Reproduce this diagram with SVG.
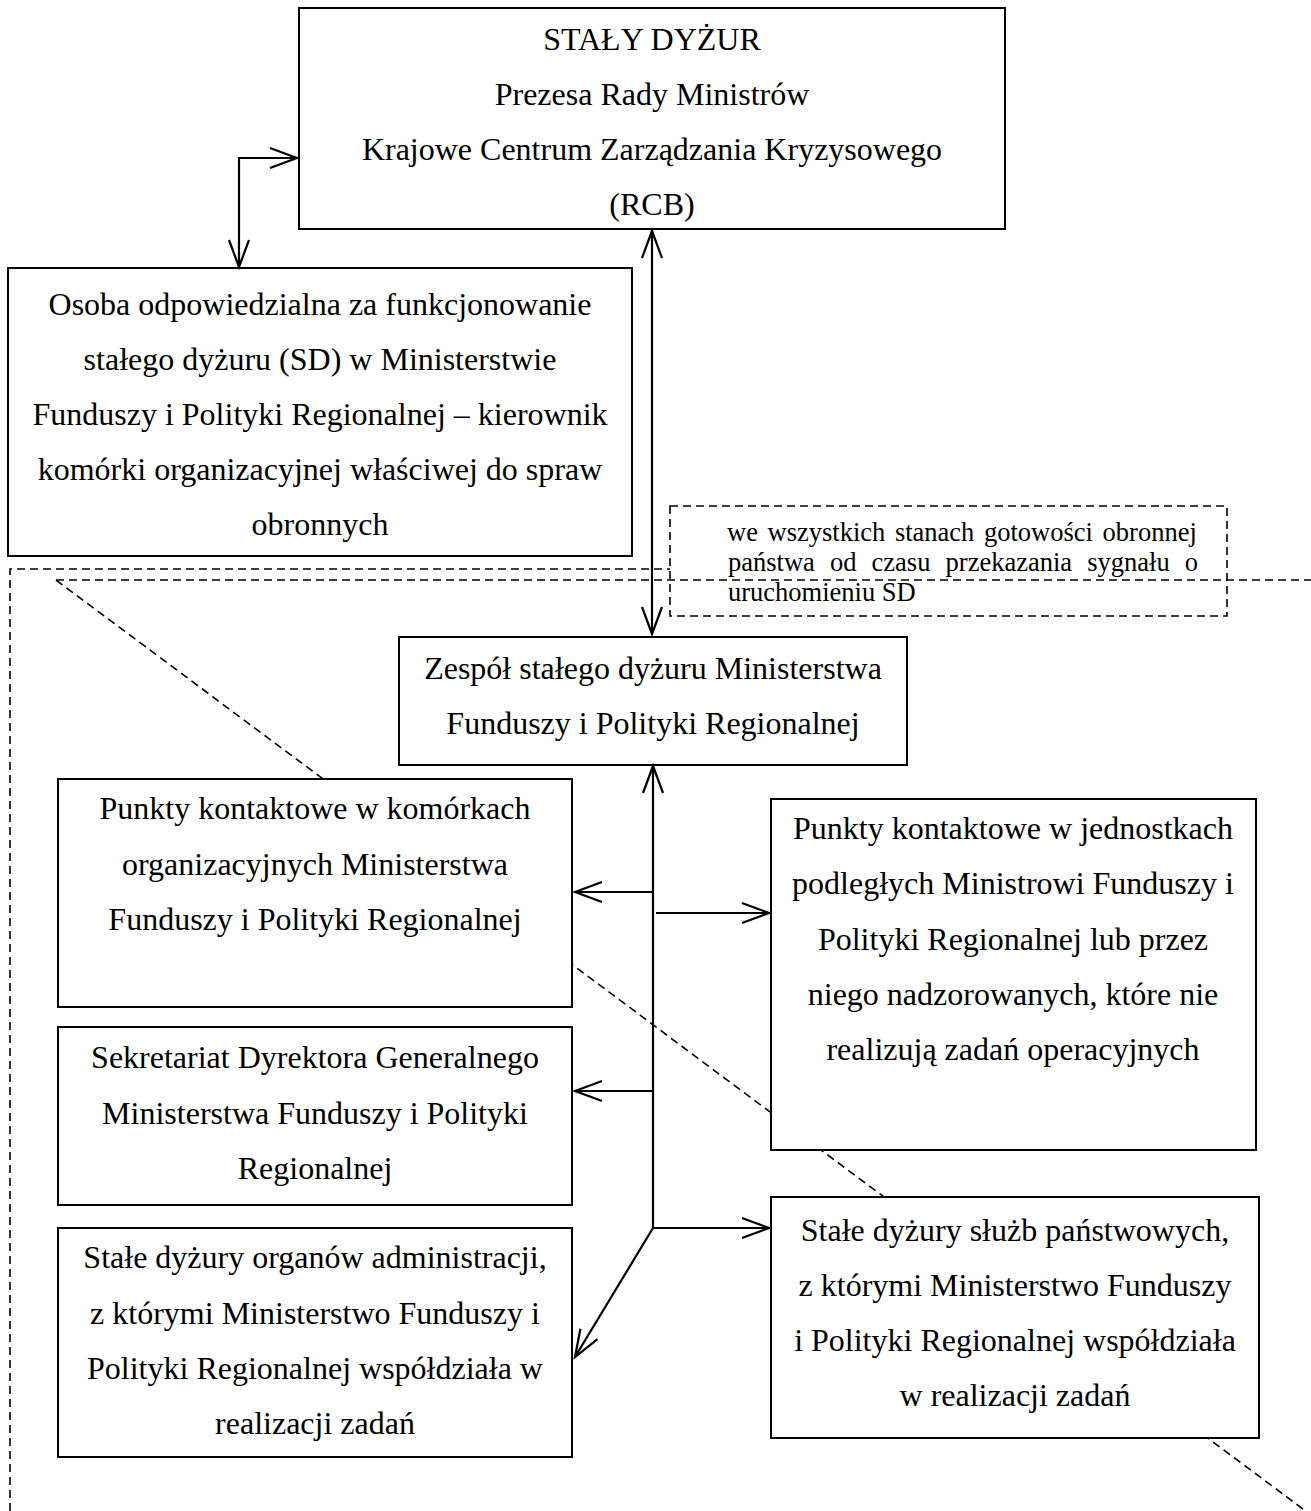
<svg xmlns="http://www.w3.org/2000/svg" width="1311" height="1511" viewBox="0 0 1311 1511">
<defs>
<style>
.box{fill:#fff;stroke:#000;stroke-width:2}
.t{font-family:"Liberation Serif","Times New Roman",serif;font-size:32px;text-anchor:middle;fill:#000}
.n{font-family:"Liberation Serif","Times New Roman",serif;font-size:26.5px;fill:#000}
.conn{stroke:#000;stroke-width:2.2;fill:none}
.dash{stroke:#000;stroke-width:1.6;stroke-dasharray:8 5;fill:none}
</style>
<marker id="arr" markerUnits="userSpaceOnUse" viewBox="-2 -2 32 24" markerWidth="32" markerHeight="24" refX="27" refY="10" orient="auto-start-reverse" overflow="visible">
<path d="M0,0 L27,10 L0,20" fill="none" stroke="#000" stroke-width="2.2"/>
</marker>
</defs>
<rect width="1311" height="1511" fill="#fff"/>

<g id="frame">
<path class="dash" d="M56,580 L1311,1515"/>
<path class="dash" d="M10,1511 L10,569 L670,569"/>
<path class="dash" d="M56,580 L1311,580"/>
</g>

<g id="note">
<rect class="dash" x="670" y="506" width="557" height="110"/>
<text class="n" x="727" y="541" word-spacing="3">we wszystkich stanach gotowości obronnej</text>
<text class="n" x="728" y="571" word-spacing="8.5">państwa od czasu przekazania sygnału o</text>
<text class="n" x="728" y="601">uruchomieniu SD</text>
</g>

<g id="rcb">
<rect class="box" x="299" y="8" width="706" height="221"/>
<text class="t" x="652" y="50">STAŁY DYŻUR</text>
<text class="t" x="652" y="105">Prezesa Rady Ministrów</text>
<text class="t" x="652" y="160">Krajowe Centrum Zarządzania Kryzysowego</text>
<text class="t" x="652" y="215">(RCB)</text>
</g>

<g id="osoba">
<rect class="box" x="8" y="268" width="624" height="288"/>
<text class="t" x="320" y="315">Osoba odpowiedzialna za funkcjonowanie</text>
<text class="t" x="320" y="370">stałego dyżuru (SD) w Ministerstwie</text>
<text class="t" x="320" y="425">Funduszy i Polityki Regionalnej – kierownik</text>
<text class="t" x="320" y="480">komórki organizacyjnej właściwej do spraw</text>
<text class="t" x="320" y="535">obronnych</text>
</g>

<g id="zespol">
<rect class="box" x="399" y="637" width="508" height="128"/>
<text class="t" x="653" y="679">Zespół stałego dyżuru Ministerstwa</text>
<text class="t" x="653" y="734">Funduszy i Polityki Regionalnej</text>
</g>

<g id="punkty-komorki">
<rect class="box" x="58" y="779" width="514" height="228"/>
<text class="t" x="315" y="819">Punkty kontaktowe w komórkach</text>
<text class="t" x="315" y="875">organizacyjnych Ministerstwa</text>
<text class="t" x="315" y="930">Funduszy i Polityki Regionalnej</text>
</g>

<g id="sekretariat">
<rect class="box" x="58" y="1027" width="514" height="178"/>
<text class="t" x="315" y="1068">Sekretariat Dyrektora Generalnego</text>
<text class="t" x="315" y="1124">Ministerstwa Funduszy i Polityki</text>
<text class="t" x="315" y="1179">Regionalnej</text>
</g>

<g id="organy">
<rect class="box" x="58" y="1228" width="514" height="229"/>
<text class="t" x="315" y="1268">Stałe dyżury organów administracji,</text>
<text class="t" x="315" y="1324">z którymi Ministerstwo Funduszy i</text>
<text class="t" x="315" y="1379">Polityki Regionalnej współdziała w</text>
<text class="t" x="315" y="1434">realizacji zadań</text>
</g>

<g id="punkty-jednostki">
<rect class="box" x="771" y="799" width="485" height="351"/>
<text class="t" x="1013" y="839">Punkty kontaktowe w jednostkach</text>
<text class="t" x="1013" y="894">podległych Ministrowi Funduszy i</text>
<text class="t" x="1013" y="950">Polityki Regionalnej lub przez</text>
<text class="t" x="1013" y="1005">niego nadzorowanych, które nie</text>
<text class="t" x="1013" y="1060">realizują zadań operacyjnych</text>
</g>

<g id="sluzby">
<rect class="box" x="771" y="1197" width="488" height="241"/>
<text class="t" x="1015" y="1241">Stałe dyżury służb państwowych,</text>
<text class="t" x="1015" y="1296">z którymi Ministerstwo Funduszy</text>
<text class="t" x="1015" y="1351">i Polityki Regionalnej współdziała</text>
<text class="t" x="1015" y="1406">w realizacji zadań</text>
</g>

<g id="connectors">
<path class="conn" d="M239,267 L239,158 L297,158" marker-start="url(#arr)" marker-end="url(#arr)"/>
<path class="conn" d="M652,231 L652,634" marker-start="url(#arr)" marker-end="url(#arr)"/>
<path class="conn" d="M653,1228 L653,766" marker-end="url(#arr)"/>
<path class="conn" d="M653,892 L575,892" marker-end="url(#arr)"/>
<path class="conn" d="M656,913 L769,913" marker-end="url(#arr)"/>
<path class="conn" d="M653,1091 L575,1091" marker-end="url(#arr)"/>
<path class="conn" d="M653,1228 L769,1228" marker-end="url(#arr)"/>
<path class="conn" d="M653,1228 L575,1357" marker-end="url(#arr)"/>
</g>
</svg>
